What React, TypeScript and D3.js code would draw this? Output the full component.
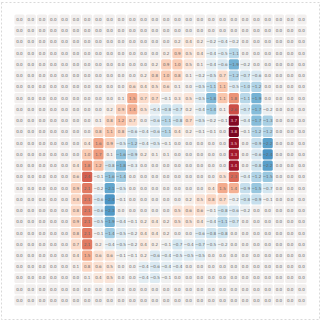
import React from "react";
import * as d3 from "d3";

const rowIds: number[] = d3.range(26);
const colIds: number[] = d3.range(26);

const Z = (n: number): number[] => new Array(n).fill(0);

const values: number[][] = [
  Z(26),
  Z(26),
  [...Z(14), 0.2, 0.4, 0.2, -0.2, -0.4, -0.2, ...Z(6)],
  [...Z(13), 0.2, 0.9, 0.5, 0.4, -0.4, -0.5, -1.1, ...Z(6)],
  [...Z(12), 0.2, 0.9, 1.0, 0.5, 0.1, -0.4, -0.6, -1.9, -0.2, ...Z(5)],
  [...Z(11), 0.2, 0.8, 1.0, 0.8, 0.1, -0.2, -0.5, 0.7, -1.2, -0.7, -0.6, ...Z(4)],
  [...Z(10), 0.6, 0.4, 0.5, 0.6, 0.1, 0.0, -0.5, -1.1, 1.1, -0.5, -1.0, -1.2, ...Z(4)],
  [...Z(9), 0.1, 1.5, 0.7, 0.7, -0.1, 0.3, 0.5, -0.5, -1.8, 1.1, 1.8, -1.1, -1.9, ...Z(4)],
  [...Z(8), 0.2, 0.9, 1.4, 0.5, -0.4, -0.8, -0.7, 0.2, -0.4, -1.4, 0.1, 2.6, -0.7, -1.7, -0.2, ...Z(3)],
  [...Z(7), 0.1, 0.8, 1.2, 0.7, 0.0, -0.6, -1.1, -0.8, 0.7, -0.5, -0.2, -0.1, 3.7, -0.4, -1.7, -1.3, ...Z(3)],
  [...Z(7), 0.8, 1.1, 0.8, -0.6, -0.4, -0.6, -1.1, 0.4, 0.2, -0.1, -0.1, 0.0, 3.8, -0.1, -1.2, -1.2, ...Z(3)],
  [...Z(6), 0.4, 1.6, 0.9, -0.5, -1.2, -0.4, -0.5, -0.1, 0, 0, 0, 0, 0, 3.5, 0, -0.9, -2.2, ...Z(3)],
  [...Z(6), 1.0, 1.7, 0.1, -1.6, -0.9, 0.2, 0.1, 0.1, 0, 0, 0, 0, 0, 3.3, 0, -0.6, -2.4, ...Z(3)],
  [...Z(5), 0.4, 1.8, 1.2, -0.8, -1.8, -0.3, ...Z(8), 3.4, 0, -0.8, -2.2, ...Z(3)],
  [...Z(5), 0.6, 2.4, -0.1, -1.6, -1.4, ...Z(8), 0.5, 2.3, -0.4, -1.2, -1.5, ...Z(3)],
  [...Z(5), 0.9, 2.1, -0.2, -2.1, -0.5, ...Z(7), 0.4, 1.5, 1.4, -0.9, -1.5, -0.7, ...Z(3)],
  [...Z(5), 0.8, 2.1, -0.6, -2.4, -0.1, ...Z(5), 0.2, 0.5, 0.8, 0.7, -0.2, -0.8, -0.9, -0.1, ...Z(3)],
  [...Z(5), 0.8, 2.1, -0.6, -2.3, 0, ...Z(4), 0.5, 0.6, 0.6, -0.1, -0.8, -0.6, -0.2, ...Z(5)],
  [...Z(5), 0.9, 2.1, -0.5, -1.9, -0.4, -0.1, 0.2, 0.4, 0.2, 0.5, 0.5, 0.4, -0.4, -1.1, -0.7, ...Z(6)],
  [...Z(5), 0.8, 2.1, -0.1, -1.4, -0.5, -0.2, 0.4, 0.4, 0.2, 0.0, 0.0, -0.6, -0.8, -0.8, ...Z(7)],
  [...Z(5), 0.7, 2.1, 0.2, -0.4, -0.5, -0.2, 0.4, 0.2, -0.1, -0.7, -0.4, -0.7, -0.5, -0.2, ...Z(7)],
  [...Z(5), 0.4, 1.5, 0.6, 0.6, -0.1, -0.1, 0.2, -0.6, -0.4, -0.5, -0.5, -0.5, ...Z(9)],
  [...Z(5), 0.1, 0.8, 0.6, 0.5, 0, 0, -0.4, -0.6, -0.4, -0.4, ...Z(11)],
  [...Z(6), 0.1, 0.4, 0.5, 0, 0, -0.4, -0.5, -0.1, ...Z(12)],
  Z(26),
  Z(26),
];

const W = 322;
const H = 322;

export default function App() {
  const x = d3.scaleBand<number>().domain(colIds).range([14.4, 306.6]).paddingInner(0.1);
  const y = d3.scaleBand<number>().domain(rowIds).range([14.4, 305.6]).paddingInner(0.1);
  const maxAbs = 4;
  const color = (v: number) => d3.interpolateRdBu(Math.max(0, Math.min(1, 0.5 - v / (2 * maxAbs))));
  const fmt = d3.format(".1f");
  const cells: { r: number; c: number; v: number }[] = [];
  rowIds.forEach((r) => colIds.forEach((c) => cells.push({ r, c, v: values[r][c] })));
  return (
    <div style={{ position: "fixed", left: 0, top: 0, width: W, height: H, background: "#fff" }}>
      <svg width={W} height={H} style={{ display: "block" }}>
        <rect x={1.5} y={2.5} width={318} height={317} fill="none" stroke="#d9d9d9" strokeDasharray="2,2" />
        {cells.map((d) => (
          <g key={`${d.r}-${d.c}`}>
            <rect
              x={x(d.c)}
              y={y(d.r)}
              width={x.bandwidth()}
              height={y.bandwidth()}
              rx={1.5}
              fill={color(d.v)}
            />
            <text
              x={(x(d.c) as number) + x.bandwidth() / 2}
              y={(y(d.r) as number) + y.bandwidth() / 2}
              dy="0.35em"
              textAnchor="middle"
              fontFamily="DejaVu Sans, sans-serif"
              fontSize={4.1}
              fill={Math.abs(d.v) >= 3 ? "#f0d0d8" : "#666"}
            >
              {fmt(d.v)}
            </text>
          </g>
        ))}
      </svg>
    </div>
  );
}
